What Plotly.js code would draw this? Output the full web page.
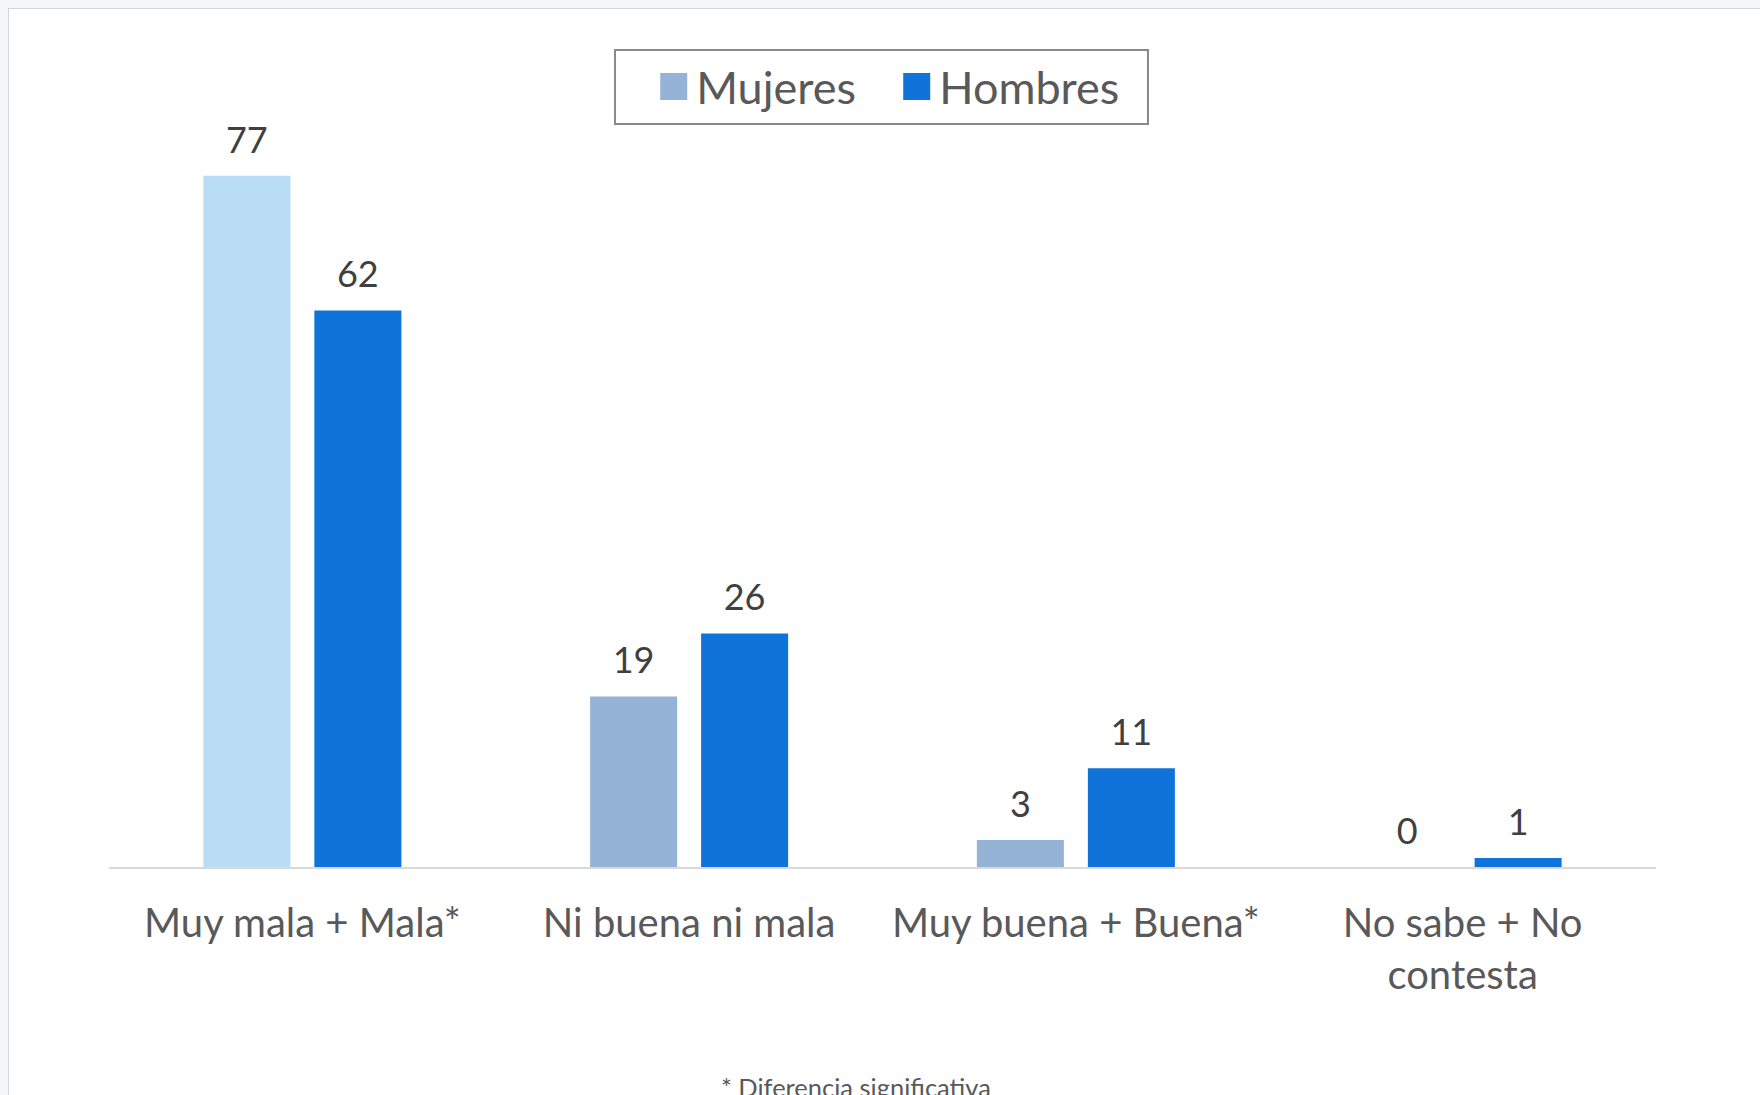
<!DOCTYPE html>
<html><head><meta charset="utf-8">
<script src="https://cdn.plot.ly/plotly-3.0.1.min.js"></script>
<style>
html,body{margin:0;padding:0;background:#F5F6FA;overflow:hidden;width:1760px;height:1095px;}
#panel{position:absolute;left:8px;top:8px;width:1800px;height:1150px;border:1px solid #D5D5D5;background:#fff;}
#chart{position:absolute;left:0;top:0;width:1760px;height:1100px;}
</style></head><body>
<div id="panel"><div id="chart"></div></div>
<script>
// ---- data ----
const categories = ["Muy mala + Mala*", "Ni buena ni mala", "Muy buena + Buena*", "No sabe + No<br>contesta"];
const mujeres = [77, 19, 3, 0];
const hombres = [62, 26, 11, 1];
const seriesNames = ["Mujeres", "Hombres"];
const footnote = "* Diferencia significativa";

// ---- styles ----
const FONT = "Lato, 'Open Sans', sans-serif";
const mujeresBarColors = ["#B8DDF4", "#95B3D7", "#95B3D7", "#95B3D7"];
const mujeresLegendColor = "#95B3D7";
const hombresColor = "#0F73D9";

function labelTrace(values, group) {
  return {
    type: "scatter", x: categories, y: values, mode: "markers+text",
    text: values.map(String), textposition: "top center",
    textfont: {family: FONT, size: 36, color: "#404040"},
    marker: {size: 21, color: "rgba(0,0,0,0)"},
    offsetgroup: group, showlegend: false, hoverinfo: "skip", cliponaxis: false
  };
}

const data = [
  {type: "bar", name: seriesNames[0], x: categories, y: mujeres, offsetgroup: "m",
   marker: {color: mujeresBarColors, line: {width: 0}}, hoverinfo: "skip"},
  {type: "bar", name: seriesNames[1], x: categories, y: hombres, offsetgroup: "h",
   marker: {color: hombresColor, line: {width: 0}}, hoverinfo: "skip"},
  labelTrace(mujeres, "m"),
  labelTrace(hombres, "h")
];

const layout = {
  width: 1760, height: 1100,
  margin: {l: 100, r: 113, t: 95, b: 242},
  paper_bgcolor: "#ffffff", plot_bgcolor: "#ffffff",
  font: {family: FONT, color: "#595959"},
  barmode: "group", bargap: 0.426, bargroupgap: 0.216,
  scattermode: "group", scattergap: 0.426,
  xaxis: {type: "category", showline: true, linecolor: "#D9D9D9", linewidth: 2,
          ticks: "", showgrid: false, zeroline: false, ticklabelstandoff: 20,
          tickfont: {family: FONT, size: 40, color: "#595959"}},
  yaxis: {range: [0, 85], visible: false, showgrid: false, zeroline: false},
  legend: {orientation: "h", x: 0.3505, xanchor: "left", y: 1.0225, yanchor: "middle",
           font: {family: FONT, size: 45, color: "#595959"}, bgcolor: "rgba(0,0,0,0)",
           borderwidth: 0, itemwidth: 35, entrywidth: 193, entrywidthmode: "pixels"},
  shapes: [{type: "rect", xref: "paper", yref: "paper", x0: 0.3271, x1: 0.6716, y0: 0.9738, y1: 1.0709,
            line: {color: "#898989", width: 2}, fillcolor: "rgba(0,0,0,0)", layer: "above"}],
  annotations: [{xref: "paper", yref: "paper", x: 0.4829, y: -0.2655, xanchor: "center", yanchor: "top",
                 text: footnote, showarrow: false, font: {family: FONT, size: 25.5, color: "#595959"}}]
};

Plotly.newPlot("chart", data, layout, {staticPlot: true}).then(function (gd) {
  const pts = gd.querySelectorAll(".legend .legendpoints path");
  pts.forEach(function (p) {
    p.setAttribute("transform", (p.getAttribute("transform") || "") + " scale(2.25)");
  });
  if (pts[0]) pts[0].style.fill = mujeresLegendColor;
});
</script>
</body></html>
